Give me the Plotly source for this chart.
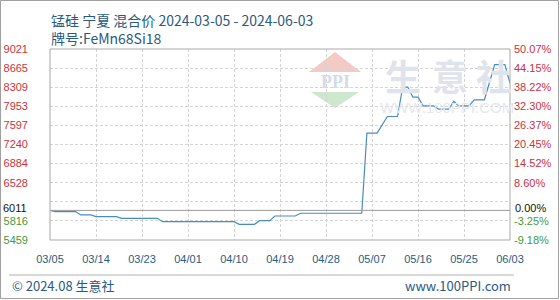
import plotly.graph_objects as go

# ---- data ----
dates = ["2024-03-05", "2024-03-06", "2024-03-10", "2024-03-11", "2024-03-13", "2024-03-14",
         "2024-03-18", "2024-03-19", "2024-03-26", "2024-03-27", "2024-04-10", "2024-04-11",
         "2024-04-14", "2024-04-15", "2024-04-17", "2024-04-18", "2024-04-22", "2024-04-23",
         "2024-05-05", "2024-05-06", "2024-05-08", "2024-05-10", "2024-05-12", "2024-05-13",
         "2024-05-14", "2024-05-15", "2024-05-16", "2024-05-17", "2024-05-19", "2024-05-20",
         "2024-05-22", "2024-05-23", "2024-05-24", "2024-05-26", "2024-05-27", "2024-05-29",
         "2024-05-31", "2024-06-02", "2024-06-03"]
prices = [6011, 5990, 5990, 5926, 5926, 5894,
          5894, 5864, 5864, 5801, 5801, 5752,
          5752, 5820, 5820, 5907, 5907, 5958,
          5958, 7452, 7452, 7762, 7762, 8311,
          8311, 8125, 8125, 7962, 7962, 7900,
          7900, 8042, 7962, 7962, 8074, 8074,
          8728, 8728, 8386]

base_value = 6011
y_min, y_max = 5459, 9021
left_tick_vals = [9021, 8665, 8309, 7953, 7597, 7240, 6884, 6528, 5816, 5459]
right_tick_text = ["50.07%", "44.15%", "38.22%", "32.30%", "26.37%", "20.45%",
                   "14.52%", "8.60%", "-3.25%", "-9.18%"]
base_left_text = "6011"
base_right_text = "0.00%"
x_tick_dates = ["2024-03-05", "2024-03-14", "2024-03-23", "2024-04-01", "2024-04-10",
                "2024-04-19", "2024-04-28", "2024-05-07", "2024-05-16", "2024-05-25",
                "2024-06-03"]
x_tick_text = ["03/05", "03/14", "03/23", "04/01", "04/10", "04/19", "04/28",
               "05/07", "05/16", "05/25", "06/03"]

title_line1 = "锰硅 宁夏 混合价 2024-03-05 - 2024-06-03"
title_line2 = "牌号:FeMn68Si18"
footer_left = "© 2024.08 生意社"
footer_right = "www.100PPI.com"

RED = "#c8323c"
GREEN = "#3f9a3f"
BLACK = "#111111"
TXT_BLUE = "#2a5a80"
LINE = "#4a8cbd"
GRID = "#d4d4d4"


def colored(v, text):
    c = RED if v > base_value else (BLACK if v == base_value else GREEN)
    return f'<span style="color:{c}">{text}</span>'


left_text = [colored(v, str(v)) for v in left_tick_vals]
right_text = [colored(v, t) for v, t in zip(left_tick_vals, right_tick_text)]

# layout geometry (pixels)
W, H = 560, 300
L, R, T, B = 50, 510, 49, 240


def px(x):
    return (x - L) / (R - L)


def py(y):
    return (B - y) / (B - T)


fig = go.Figure()
fig.add_trace(go.Scatter(x=dates, y=prices, mode="lines",
                         line=dict(color=LINE, width=1.2), hoverinfo="skip",
                         showlegend=False))
fig.add_trace(go.Scatter(x=dates, y=prices, mode="lines", yaxis="y2",
                         line=dict(color="rgba(0,0,0,0)", width=0), hoverinfo="skip",
                         showlegend=False))

shapes = []
# watermark logo
shapes.append(dict(type="path", xref="paper", yref="paper", layer="below",
                   path=f"M {px(335)} {py(52)} L {px(309)} {py(72)} L {px(361)} {py(72)} Z",
                   fillcolor="#f5c9c4", line=dict(width=0)))
shapes.append(dict(type="path", xref="paper", yref="paper", layer="below",
                   path=f"M {px(311)} {py(92)} L {px(359)} {py(92)} L {px(335)} {py(108)} Z",
                   fillcolor="#cde8cc", line=dict(width=0)))
# base line
shapes.append(dict(type="line", xref="paper", yref="y", x0=0, x1=1,
                   y0=base_value, y1=base_value, line=dict(color="#9a9a9a", width=1)))
# plot border
shapes.append(dict(type="rect", xref="paper", yref="paper", x0=0, x1=1, y0=0, y1=1,
                   line=dict(color="#a8a8a8", width=1)))
# footer separator
shapes.append(dict(type="line", xref="paper", yref="paper", x0=px(9), x1=px(514),
                   y0=py(275), y1=py(275), line=dict(color="#b0b0b0", width=1)))
# outer frame
shapes.append(dict(type="rect", xref="paper", yref="paper", x0=px(0.5), x1=px(558.5),
                   y0=py(298.5), y1=py(0.5), line=dict(color="#a0a0a0", width=1)))

annotations = [
    dict(text=title_line1 + "<br>" + title_line2, x=px(49), y=py(8), xref="paper", yref="paper",
         xanchor="left", yanchor="top", align="left", showarrow=False,
         font=dict(family="Noto Sans CJK SC", size=14, color=TXT_BLUE)),
    dict(text=footer_left, x=px(10), y=py(285), xref="paper", yref="paper",
         xanchor="left", yanchor="middle", showarrow=False,
         font=dict(family="Noto Sans CJK SC", size=13, color=TXT_BLUE)),
    dict(text=footer_right, x=px(513), y=py(285), xref="paper", yref="paper",
         xanchor="right", yanchor="middle", showarrow=False,
         font=dict(family="Noto Sans CJK SC", size=13, color=TXT_BLUE)),
    dict(text="<b>PPI</b>", x=px(335), y=py(82), xref="paper", yref="paper",
         xanchor="center", yanchor="middle", showarrow=False,
         font=dict(family="Liberation Serif", size=18, color="#d3dbe6")),
    dict(text="WWW.100PPI.COM", x=px(447), y=py(107), xref="paper", yref="paper",
         xanchor="center", yanchor="middle", showarrow=False,
         font=dict(family="Liberation Sans", size=15, color="#e4e8ee")),
    # base value labels (placed slightly above the base line as in the reference)
    dict(text=base_left_text, x=px(29), y=py(207.5), xref="paper", yref="paper",
         xanchor="right", yanchor="middle", showarrow=False,
         font=dict(family="Liberation Sans", size=11, color=BLACK)),
    dict(text=base_right_text, x=px(513), y=py(207.5), xref="paper", yref="paper",
         xanchor="left", yanchor="middle", showarrow=False,
         font=dict(family="Liberation Sans", size=11, color=BLACK)),
]
for ch, cx in zip(["生", "意", "社"], [403, 450, 494]):
    annotations.append(dict(text=f"<b>{ch}</b>", x=px(cx), y=py(75), xref="paper", yref="paper",
                            xanchor="center", yanchor="middle", showarrow=False,
                            font=dict(family="Noto Sans CJK SC", size=36, color="#dfe4ec")))

tick_font = dict(family="Liberation Sans", size=11, color=BLACK)

fig.update_layout(
    width=W, height=H,
    margin=dict(l=L, r=W - R, t=T, b=H - B, autoexpand=False),
    paper_bgcolor="white", plot_bgcolor="white",
    showlegend=False,
    shapes=shapes,
    annotations=annotations,
    xaxis=dict(type="date", range=[x_tick_dates[0], x_tick_dates[-1]],
               tickmode="array", tickvals=x_tick_dates, ticktext=x_tick_text,
               showgrid=True, gridcolor=GRID, griddash="3px,2px", gridwidth=1,
               zeroline=False, showline=False, ticks="",
               ticklabelstandoff=11,
               tickfont=dict(family="Liberation Sans", size=11, color=TXT_BLUE)),
    yaxis=dict(range=[y_min, y_max], tickmode="array", tickvals=left_tick_vals,
               ticktext=left_text, showgrid=False, zeroline=False, showline=False,
               ticks="", ticklabelstandoff=21, tickfont=tick_font,
               minor=dict(tick0=y_min, dtick=(y_max - y_min) / 10, showgrid=True,
                          gridcolor=GRID, griddash="3px,2px", gridwidth=1, ticks="")),
    yaxis2=dict(range=[y_min, y_max], overlaying="y", side="right", tickmode="array",
                tickvals=left_tick_vals, ticktext=right_text, showgrid=False,
                zeroline=False, showline=False, ticks="", ticklabelstandoff=3,
                tickfont=tick_font),
)

fig.write_html("out.html")
